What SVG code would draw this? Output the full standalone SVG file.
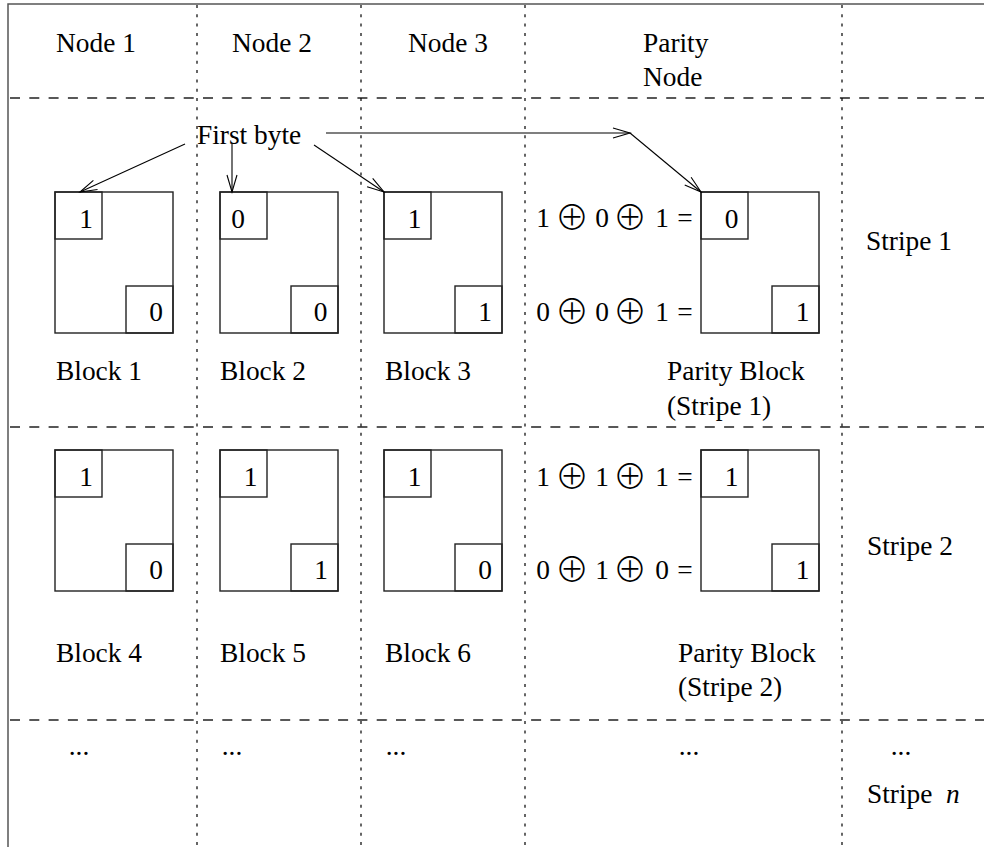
<svg xmlns="http://www.w3.org/2000/svg" width="984" height="847" viewBox="0 0 984 847">
<style>
text { font-family: "Liberation Serif", "Times New Roman", serif; font-size: 27.4px; fill: #000; }
.mid { text-anchor: middle; }
.op { font-family: "Noto Sans CJK JP", "DejaVu Sans", sans-serif; font-size: 34px; font-weight: 300; }
.frame { stroke: #555; stroke-width: 1.5; fill: none; }
.hdash { stroke: #222; stroke-width: 1.4; stroke-dasharray: 10 9.3; fill: none; }
.vdot { stroke: #000; stroke-width: 1.2; stroke-dasharray: 3 6.3; fill: none; }
.box { stroke: #222; stroke-width: 1.4; fill: none; }
.conn { stroke: #000; stroke-width: 1.1; fill: none; }
</style>
<defs>
<marker id="ah" markerUnits="userSpaceOnUse" markerWidth="20" markerHeight="14" refX="18" refY="6" orient="auto" viewBox="0 0 20 12">
<path d="M1,1 L18,6 L1,11" fill="none" stroke="#000" stroke-width="1.1"/>
</marker>
</defs>
<rect width="984" height="847" fill="#fff"/>
<g id="grid">
<path class="frame" d="M8,847 V4 H984"/>
<path class="hdash" d="M10,98 H984 M10,427 H984 M10,720 H984"/>
<path class="vdot" d="M197,5 V847 M361,5 V847 M525,5 V847 M842,5 V847"/>
</g>
<g id="headers">
<text x="56" y="52">Node 1</text>
<text x="232" y="52">Node 2</text>
<text x="408" y="52">Node 3</text>
<text x="643" y="52">Parity</text>
<text x="643" y="86">Node</text>
</g>
<g id="block1">
<rect class="box" x="55" y="192" width="118" height="141"/>
<rect class="box" x="55" y="192" width="47" height="47"/>
<rect class="box" x="126" y="286" width="47" height="47"/>
<text class="mid" x="86" y="228">1</text>
<text class="mid" x="156" y="321">0</text>
<text x="56" y="380">Block 1</text>
</g>
<g id="block2">
<rect class="box" x="220" y="192" width="118" height="141"/>
<rect class="box" x="220" y="192" width="47" height="47"/>
<rect class="box" x="291" y="286" width="47" height="47"/>
<text class="mid" x="238" y="228">0</text>
<text class="mid" x="320.5" y="321">0</text>
<text x="220" y="380">Block 2</text>
</g>
<g id="block3">
<rect class="box" x="384" y="192" width="118" height="141"/>
<rect class="box" x="384" y="192" width="47" height="47"/>
<rect class="box" x="455" y="286" width="47" height="47"/>
<text class="mid" x="414.5" y="228">1</text>
<text class="mid" x="485" y="321">1</text>
<text x="385" y="380">Block 3</text>
</g>
<g id="parity1">
<rect class="box" x="701" y="192" width="118" height="141"/>
<rect class="box" x="701" y="192" width="47" height="47"/>
<rect class="box" x="772" y="286" width="47" height="47"/>
<text class="mid" x="731.5" y="228">0</text>
<text class="mid" x="802.5" y="321">1</text>
<text x="667" y="380">Parity Block</text>
<text x="667" y="415">(Stripe 1)</text>
</g>
<g id="eq1">
<text class="mid" x="543" y="227">1</text>
<text class="mid op" x="572" y="230">⊕</text>
<text class="mid" x="602" y="227">0</text>
<text class="mid op" x="630" y="230">⊕</text>
<text class="mid" x="662" y="227">1</text>
<text class="mid" x="685" y="227">=</text>
<text class="mid" x="543" y="321">0</text>
<text class="mid op" x="572" y="324">⊕</text>
<text class="mid" x="602" y="321">0</text>
<text class="mid op" x="630" y="324">⊕</text>
<text class="mid" x="662" y="321">1</text>
<text class="mid" x="685" y="321">=</text>
</g>
<g id="block4">
<rect class="box" x="55" y="450" width="118" height="141"/>
<rect class="box" x="55" y="450" width="47" height="47"/>
<rect class="box" x="126" y="544" width="47" height="47"/>
<text class="mid" x="86" y="486">1</text>
<text class="mid" x="156" y="579">0</text>
<text x="56" y="662">Block 4</text>
</g>
<g id="block5">
<rect class="box" x="220" y="450" width="118" height="141"/>
<rect class="box" x="220" y="450" width="47" height="47"/>
<rect class="box" x="291" y="544" width="47" height="47"/>
<text class="mid" x="250.5" y="486">1</text>
<text class="mid" x="321" y="579">1</text>
<text x="220" y="662">Block 5</text>
</g>
<g id="block6">
<rect class="box" x="384" y="450" width="118" height="141"/>
<rect class="box" x="384" y="450" width="47" height="47"/>
<rect class="box" x="455" y="544" width="47" height="47"/>
<text class="mid" x="414.5" y="486">1</text>
<text class="mid" x="485" y="579">0</text>
<text x="385" y="662">Block 6</text>
</g>
<g id="parity2">
<rect class="box" x="701" y="450" width="118" height="141"/>
<rect class="box" x="701" y="450" width="47" height="47"/>
<rect class="box" x="772" y="544" width="47" height="47"/>
<text class="mid" x="731.5" y="486">1</text>
<text class="mid" x="802.5" y="579">1</text>
<text x="678" y="662">Parity Block</text>
<text x="678" y="696">(Stripe 2)</text>
</g>
<g id="eq2">
<text class="mid" x="543" y="486">1</text>
<text class="mid op" x="572" y="489">⊕</text>
<text class="mid" x="602" y="486">1</text>
<text class="mid op" x="630" y="489">⊕</text>
<text class="mid" x="662" y="486">1</text>
<text class="mid" x="685" y="486">=</text>
<text class="mid" x="543" y="579">0</text>
<text class="mid op" x="572" y="582">⊕</text>
<text class="mid" x="602" y="579">1</text>
<text class="mid op" x="630" y="582">⊕</text>
<text class="mid" x="662" y="579">0</text>
<text class="mid" x="685" y="579">=</text>
</g>
<g id="stripes">
<text x="866" y="250">Stripe 1</text>
<text x="867" y="555">Stripe 2</text>
<text x="867" y="803">Stripe <tspan x="946" font-style="italic">n</tspan></text>
</g>
<g id="ellipses">
<text class="mid" x="79" y="755">...</text>
<text class="mid" x="232" y="755">...</text>
<text class="mid" x="396" y="755">...</text>
<text class="mid" x="689" y="755">...</text>
<text class="mid" x="901" y="755">...</text>
</g>
<g id="label-first-byte">
<text x="197" y="144">First byte</text>
</g>
<g id="connectors">
<line class="conn" x1="185" y1="144" x2="80" y2="192" marker-end="url(#ah)"/>
<line class="conn" x1="232" y1="143" x2="232" y2="192" marker-end="url(#ah)"/>
<line class="conn" x1="314" y1="145" x2="384" y2="192" marker-end="url(#ah)"/>
<line class="conn" x1="326" y1="133" x2="630" y2="133" marker-end="url(#ah)"/>
<line class="conn" x1="630" y1="133" x2="701" y2="192" marker-end="url(#ah)"/>
</g>
</svg>
